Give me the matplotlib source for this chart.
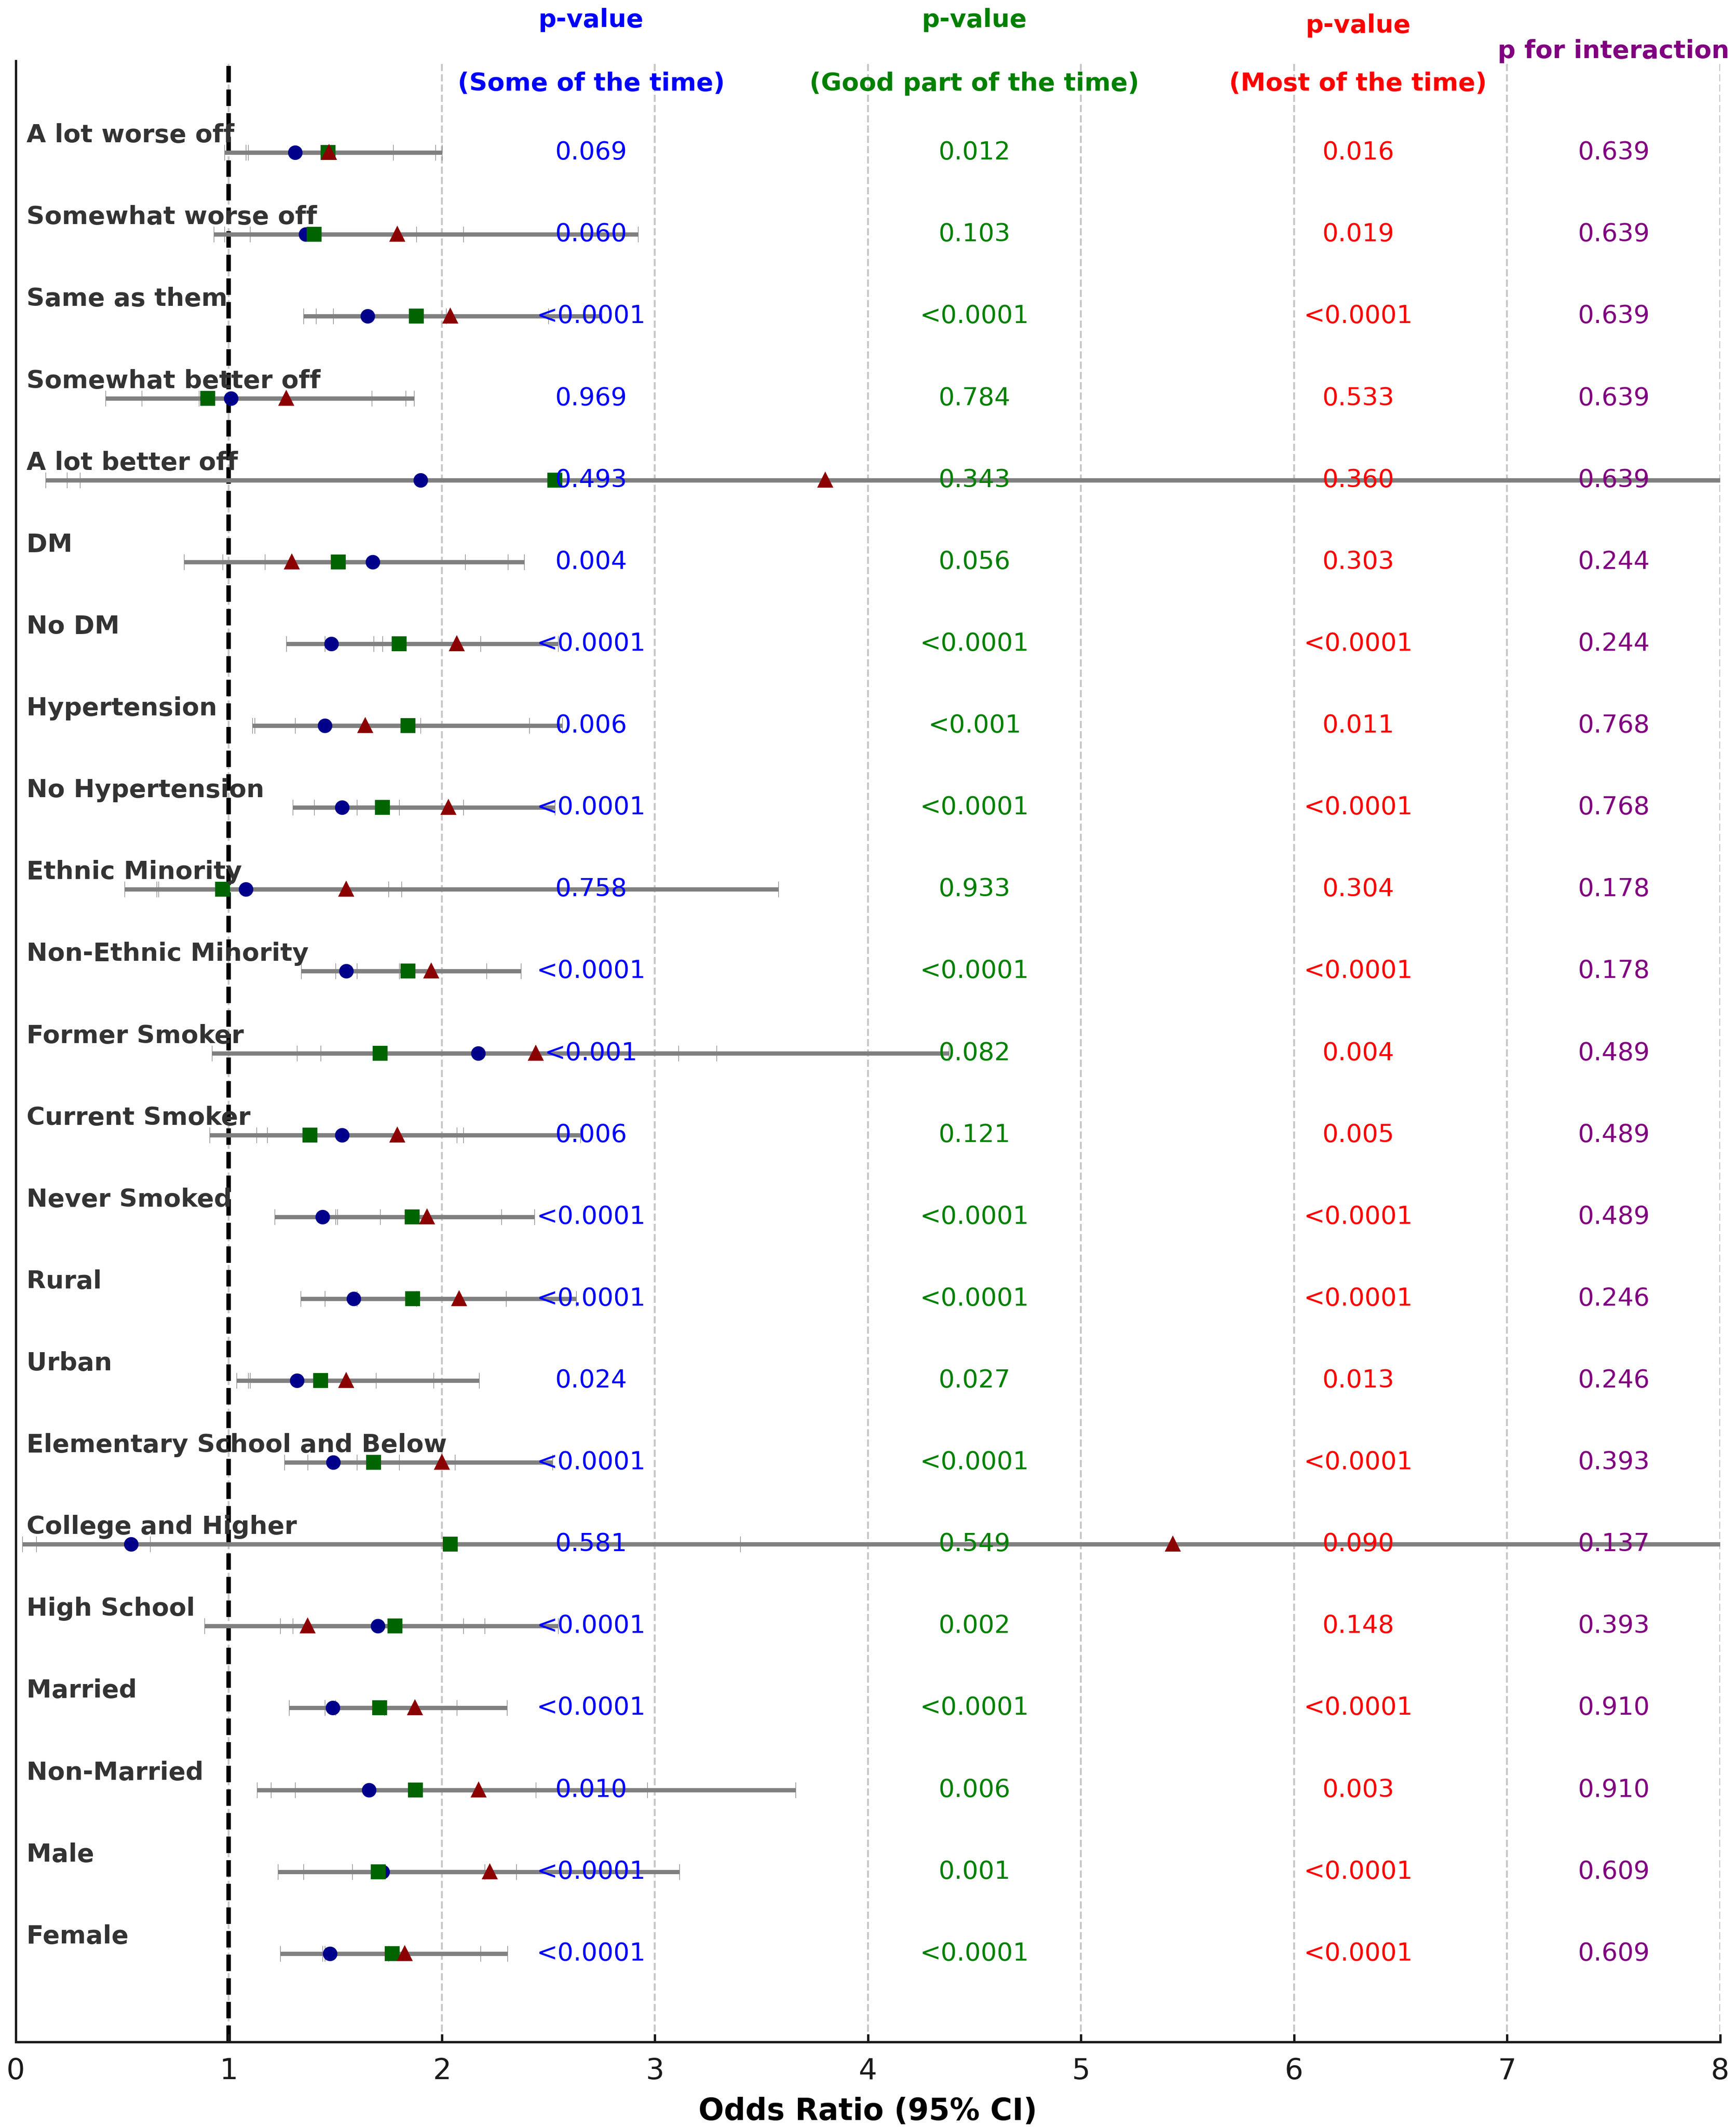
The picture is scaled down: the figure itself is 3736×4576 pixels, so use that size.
import matplotlib
matplotlib.use("Agg")
import matplotlib.pyplot as plt
import numpy as np

labels = ["A lot worse off", "Somewhat worse off", "Same as them", "Somewhat better off",
          "A lot better off", "DM", "No DM", "Hypertension", "No Hypertension",
          "Ethnic Minority", "Non-Ethnic Minority", "Former Smoker", "Current Smoker",
          "Never Smoked", "Rural", "Urban", "Elementary School and Below",
          "College and Higher", "High School", "Married", "Non-Married", "Male", "Female"]

# odds ratios (some of the time / good part of the time / most of the time)
or_some = [1.31, 1.36, 1.65, 1.01, 1.90, 1.675, 1.48, 1.45, 1.53, 1.08, 1.55, 2.17,
           1.53, 1.44, 1.585, 1.32, 1.49, 0.54, 1.70, 1.488, 1.657, 1.721, 1.474]
lo_some = [0.98, 0.93, 1.35, 0.59, 0.24, 1.17, 1.27, 1.11, 1.30, 0.66, 1.34, 1.43,
           1.13, 1.215, 1.336, 1.09, 1.26, 0.097, 1.24, 1.283, 1.131, 1.35, 1.24]
hi_some = [1.77, 1.88, 2.02, 1.67, 12.1, 2.385, 1.72, 1.90, 1.80, 1.75, 1.80, 3.29,
           2.07, 1.71, 1.88, 1.69, 1.80, 3.40, 2.20, 1.73, 2.44, 2.20, 1.75]

or_good = [1.466, 1.40, 1.88, 0.90, 2.53, 1.513, 1.80, 1.84, 1.72, 0.97, 1.84, 1.71,
           1.38, 1.86, 1.863, 1.43, 1.68, 2.04, 1.78, 1.708, 1.875, 1.702, 1.766]
lo_good = [1.09, 0.98, 1.41, 0.42, 0.14, 0.97, 1.45, 1.31, 1.40, 0.51, 1.50, 0.92,
           0.91, 1.51, 1.45, 1.036, 1.37, 0.03, 1.30, 1.45, 1.197, 1.23, 1.45]
hi_good = [1.97, 2.10, 2.50, 1.83, 45.0, 2.31, 2.18, 2.565, 2.10, 1.81, 2.21, 3.11,
           2.10, 2.28, 2.30, 1.96, 2.06, 135.0, 2.545, 2.07, 2.965, 2.35, 2.18]

or_most = [1.47, 1.79, 2.04, 1.27, 3.80, 1.295, 2.07, 1.64, 2.03, 1.55, 1.95, 2.44,
           1.79, 1.93, 2.08, 1.55, 2.00, 5.43, 1.37, 1.873, 2.173, 2.224, 1.826]
lo_most = [1.08, 1.10, 1.49, 0.86, 0.30, 0.79, 1.68, 1.12, 1.60, 0.67, 1.60, 1.32,
           1.18, 1.50, 1.60, 1.10, 1.60, 0.63, 0.886, 1.50, 1.31, 1.58, 1.44]
hi_most = [2.00, 2.92, 2.75, 1.87, 48.0, 2.11, 2.545, 2.41, 2.53, 3.58, 2.37, 4.38,
           2.65, 2.435, 2.63, 2.175, 2.52, 46.6, 2.10, 2.305, 3.66, 3.114, 2.307]

p_some = ["0.069", "0.060", "<0.0001", "0.969", "0.493", "0.004", "<0.0001", "0.006",
          "<0.0001", "0.758", "<0.0001", "<0.001", "0.006", "<0.0001", "<0.0001", "0.024",
          "<0.0001", "0.581", "<0.0001", "<0.0001", "0.010", "<0.0001", "<0.0001"]
p_good = ["0.012", "0.103", "<0.0001", "0.784", "0.343", "0.056", "<0.0001", "<0.001",
          "<0.0001", "0.933", "<0.0001", "0.082", "0.121", "<0.0001", "<0.0001", "0.027",
          "<0.0001", "0.549", "0.002", "<0.0001", "0.006", "0.001", "<0.0001"]
p_most = ["0.016", "0.019", "<0.0001", "0.533", "0.360", "0.303", "<0.0001", "0.011",
          "<0.0001", "0.304", "<0.0001", "0.004", "0.005", "<0.0001", "<0.0001", "0.013",
          "<0.0001", "0.090", "0.148", "<0.0001", "0.003", "<0.0001", "<0.0001"]
p_inter = ["0.639", "0.639", "0.639", "0.639", "0.639", "0.244", "0.244", "0.768",
           "0.768", "0.178", "0.178", "0.489", "0.489", "0.489", "0.246", "0.246",
           "0.393", "0.137", "0.393", "0.910", "0.910", "0.609", "0.609"]

n = len(labels)
y = np.arange(n)[::-1]

fig = plt.figure(figsize=(3736 / 300, 4576 / 300), dpi=300)
ax = fig.add_axes([34 / 3736, 1 - 4393 / 4576, (3702 - 34) / 3736, (4393 - 131) / 4576])

for g in range(1, 9):
    ax.axvline(g, color="#c8c8c8", linestyle="--", linewidth=1.0, zorder=0)
ax.axvline(1, color="black", linestyle="--", linewidth=2.3, zorder=1)

series = [
    (or_some, lo_some, hi_some, "o", "darkblue"),
    (or_good, lo_good, hi_good, "s", "darkgreen"),
    (or_most, lo_most, hi_most, "^", "darkred"),
]
for est, lo, hi, mk, col in series:
    est = np.array(est)
    err = [est - np.array(lo), np.array(hi) - est]
    eb = ax.errorbar(est, y, xerr=err, fmt="none", ecolor="gray", elinewidth=2.2,
                     capsize=4, capthick=0.3, zorder=2)
    for cap in eb[1]:
        cap.set_color("#dcdcdc")
for est, lo, hi, mk, col in series:
    ax.plot(est, y, mk, color=col, markersize=6.5, linestyle="none", zorder=2.5)

for i in range(n):
    ax.text(0.05, y[i] + 0.125, labels[i], fontsize=13, fontweight="bold",
            color="#333333", ha="left", va="baseline")
    ax.text(2.7, y[i], p_some[i], fontsize=13, color="blue", ha="center", va="center")
    ax.text(4.5, y[i], p_good[i], fontsize=13, color="green", ha="center", va="center")
    ax.text(6.3, y[i], p_most[i], fontsize=13, color="red", ha="center", va="center")
    ax.text(7.5, y[i], p_inter[i], fontsize=13, color="purple", ha="center", va="center")

top = n - 1
hdr = dict(fontsize=13, fontweight="bold", ha="center", va="center", clip_on=False)
ax.text(2.7, top + 1.62, "p-value", color="blue", **hdr)
ax.text(2.7, top + 0.84, "(Some of the time)", color="blue", **hdr)
ax.text(4.5, top + 1.62, "p-value", color="green", **hdr)
ax.text(4.5, top + 0.84, "(Good part of the time)", color="green", **hdr)
ax.text(6.3, top + 1.55, "p-value", color="red", **hdr)
ax.text(6.3, top + 0.84, "(Most of the time)", color="red", **hdr)
ax.text(7.5, top + 1.24, "p for interaction", color="purple", **hdr)

ax.set_xlim(0, 8)
ax.set_ylim(-1.08, top + 1.12)
ax.set_yticks([])
ax.set_xticks(range(0, 9))
ax.tick_params(axis="x", direction="in", length=4, width=1.2, labelsize=15,
               colors="#1a1a1a", pad=8)
ax.set_xlabel("Odds Ratio (95% CI)", fontsize=15.5, fontweight="bold", labelpad=6)
for s in ["top", "right"]:
    ax.spines[s].set_visible(False)
for s in ["left", "bottom"]:
    ax.spines[s].set_linewidth(1.2)
    ax.spines[s].set_color("#1a1a1a")

fig.savefig("out.png", dpi=300)
